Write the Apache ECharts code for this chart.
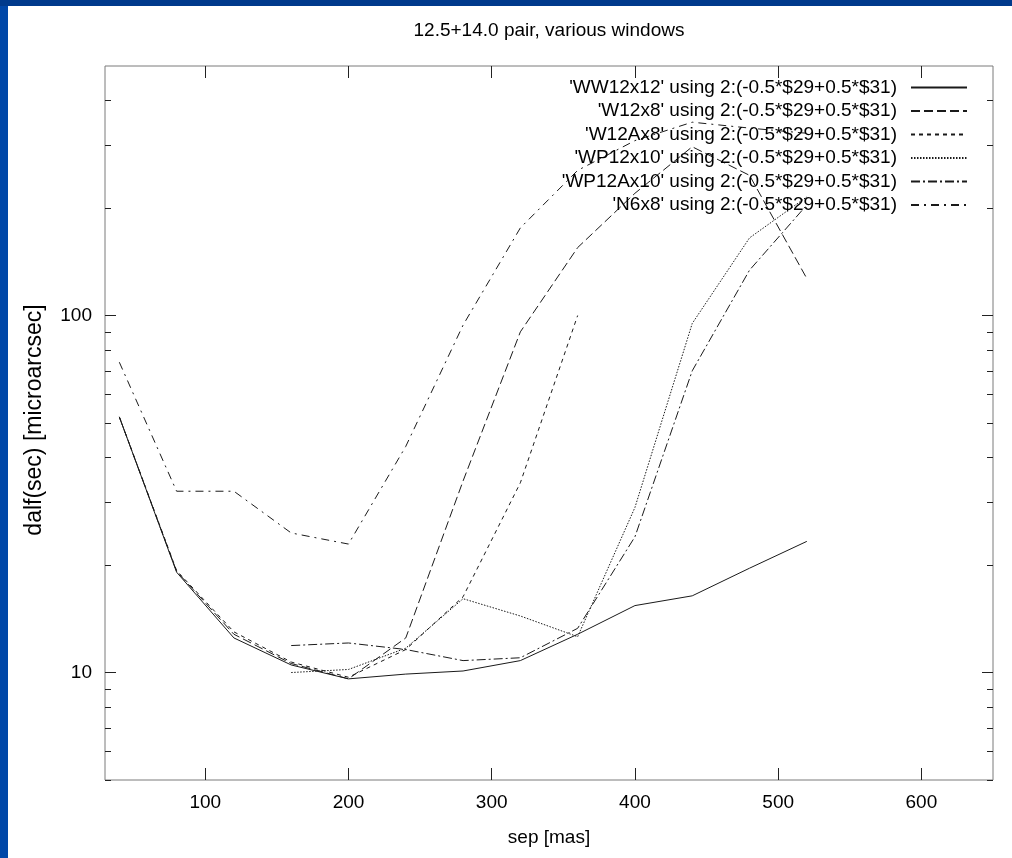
<!DOCTYPE html>
<html>
<head>
<meta charset="utf-8">
<title>12.5+14.0 pair, various windows</title>
<script src="https://cdn.jsdelivr.net/npm/echarts@6.0.0/dist/echarts.min.js"></script>
<style>
html, body { margin: 0; padding: 0; background: #0047a8; }
#main { width: 1012px; height: 858px; }
</style>
</head>
<body>
<div id="main"></div>
<script>
// separations [mas]
var sepAll   = [40, 80, 120, 160, 200, 240, 280, 320, 360, 400, 440, 480, 520];
var sepShort = [40, 80, 120, 160, 200, 240, 280, 320, 360];
var sepWP    = [160, 200, 240, 280, 320, 360, 400, 440, 480, 520];

// dalf(sec) [microarcsec]
var ww12x12  = [52, 19.1, 12.5, 10.5, 9.6, 9.9, 10.1, 10.8, 12.8, 15.4, 16.4, 19.6, 23.3];
var w12x8    = [52, 19.2, 12.8, 10.6, 9.6, 12.5, 34.4, 90, 155, 220, 297, 247, 127];
var w12ax8   = [52, 19.3, 13.0, 10.7, 9.7, 11.6, 16.3, 34, 100];
var wp12x10  = [10.0, 10.2, 11.7, 16.1, 14.4, 12.6, 29, 95, 165, 215];
var wp12ax10 = [11.9, 12.1, 11.6, 10.8, 11.0, 13.3, 24, 70, 134, 204];
var n6x8     = [74, 32.2, 32.2, 24.6, 22.9, 43, 94, 176, 255, 309, 348, 335, 324];

var xTicks = [100, 200, 300, 400, 500, 600];
var yMajor = [10, 100];
var yMinor = [5, 6, 7, 8, 9, 20, 30, 40, 50, 60, 70, 80, 90, 200, 300, 400];

var names = [
  "'WW12x12' using 2:(-0.5*$29+0.5*$31)",
  "'W12x8' using 2:(-0.5*$29+0.5*$31)",
  "'W12Ax8' using 2:(-0.5*$29+0.5*$31)",
  "'WP12x10' using 2:(-0.5*$29+0.5*$31)",
  "'WP12Ax10' using 2:(-0.5*$29+0.5*$31)",
  "'N6x8' using 2:(-0.5*$29+0.5*$31)"
];

var FONT = 'Liberation Sans';

function pairs(xs, ys) {
  var out = [];
  for (var i = 0; i < ys.length; i++) out.push([xs[i], ys[i]]);
  return out;
}

function mkSeries(i, xs, ys, dash) {
  return {
    name: names[i],
    type: 'line',
    data: pairs(xs, ys),
    xAxisIndex: 0,
    yAxisIndex: 0,
    symbol: 'none',
    showSymbol: false,
    itemStyle: { color: '#1a1a1a' },
    lineStyle: { color: '#1a1a1a', width: 1, type: dash },
    emphasis: { disabled: true }
  };
}

function yAx(pos, ticks, len, labels) {
  return {
    type: 'log', logBase: 10, min: 5, max: 500, position: pos,
    axisLine: { show: false, onZero: false },
    splitLine: { show: false },
    axisTick: { inside: true, length: len, customValues: ticks, lineStyle: { color: '#222' } },
    axisLabel: labels ? { customValues: ticks, margin: 13, fontSize: 19, fontFamily: FONT, color: '#000' } : { show: false }
  };
}

function xAx(pos, labels) {
  return {
    type: 'value', min: 30, max: 650, position: pos,
    axisLine: { show: false, onZero: false },
    splitLine: { show: false },
    axisTick: { inside: true, length: 12, customValues: xTicks, lineStyle: { color: '#222' } },
    axisLabel: labels ? { customValues: xTicks, margin: 13, fontSize: 19, fontFamily: FONT, color: '#000' } : { show: false }
  };
}

// one legend per entry so every row is right aligned like the gnuplot key
var legends = [];
for (var i = 0; i < names.length; i++) {
  legends.push({
    data: [names[i]],
    orient: 'vertical',
    align: 'right',
    right: 44,
    top: 78 + i * 23.5,
    padding: 0,
    itemWidth: 56,
    itemHeight: 20,
    selectedMode: false,
    itemStyle: { opacity: 0 },
    textStyle: { fontSize: 19, fontFamily: FONT, color: '#000', padding: [0, 9, 0, 0] }
  });
}

var chart = echarts.init(document.getElementById('main'));
chart.setOption({
  animation: false,
  backgroundColor: '#0047a8',
  graphic: [
    { type: 'rect', z: -10, shape: { x: 0, y: 0, width: 1012, height: 6 }, style: { fill: '#003a8c' } },
    { type: 'rect', z: -10, shape: { x: 8, y: 6, width: 1004, height: 852 }, style: { fill: '#fff' } },
    { type: 'text', x: 549, y: 31, style: { text: '12.5+14.0 pair, various windows', font: '19px "Liberation Sans"', fill: '#000', align: 'center', verticalAlign: 'middle' } },
    { type: 'text', x: 549, y: 838, style: { text: 'sep [mas]', font: '19px "Liberation Sans"', fill: '#000', align: 'center', verticalAlign: 'middle' } },
    { type: 'text', x: 35, y: 420, rotation: Math.PI / 2, style: { text: 'dalf(sec) [microarcsec]', font: '23px "Liberation Sans"', fill: '#000', align: 'center', verticalAlign: 'middle' } }
  ],
  legend: legends,
  grid: { left: 105, right: 19, top: 66, bottom: 78, show: true, borderColor: '#7a7a7a', borderWidth: 1, backgroundColor: 'transparent' },
  xAxis: [xAx('bottom', true), xAx('top', false)],
  yAxis: [yAx('left', yMajor, 11, true), yAx('right', yMajor, 11, false), yAx('left', yMinor, 6, false), yAx('right', yMinor, 6, false)],
  series: [
    mkSeries(0, sepAll, ww12x12, 'solid'),
    mkSeries(1, sepAll, w12x8, [9, 4]),
    mkSeries(2, sepShort, w12ax8, [4, 4]),
    mkSeries(3, sepWP, wp12x10, [1.5, 1.5]),
    mkSeries(4, sepWP, wp12ax10, [9, 3, 2, 3]),
    mkSeries(5, sepAll, n6x8, [8, 5, 2, 5])
  ]
});
</script>
</body>
</html>
